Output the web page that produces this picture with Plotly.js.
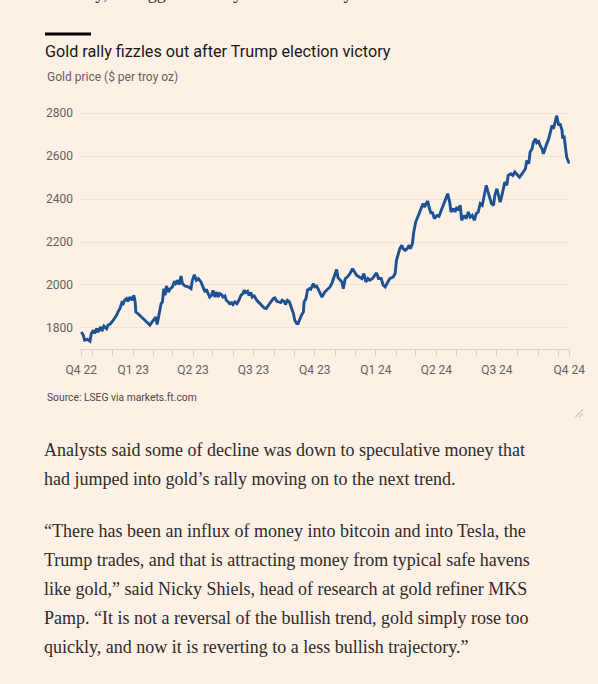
<!DOCTYPE html>
<html>
<head>
<meta charset="utf-8">
<script src="https://cdn.plot.ly/plotly-3.0.1.min.js"></script>
<style>
  html, body { margin:0; padding:0; background:#fdf0e5; width:598px; height:684px; overflow:hidden; }
  #chart { position:absolute; left:0; top:0; width:598px; height:684px; }
  .txt { position:absolute; left:44px; font-family:"Liberation Serif", "DejaVu Serif", serif; font-size:18px; line-height:29px; color:#2e2b29; white-space:nowrap; }
  .resize { position:absolute; left:574px; top:408px; width:9px; height:9px;
            background:linear-gradient(135deg, transparent 55%, #d3cbc4 55%, #d3cbc4 65%, transparent 65%, transparent 75%, #d3cbc4 75%, #d3cbc4 85%, transparent 85%); }
</style>
</head>
<body>
<div id="chart"></div>
<div class="txt" style="top:-21.5px">Tuesday, its biggest weekly fall since early</div>
<div class="txt" style="top:435.5px">Analysts said some of decline was down to speculative money that<br>had jumped into gold’s rally moving on to the next trend.</div>
<div class="txt" style="top:516.5px">“There has been an influx of money into bitcoin and into Tesla, the<br>Trump trades, and that is attracting money from typical safe havens<br>like gold,” said Nicky Shiels, head of research at gold refiner MKS<br>Pamp. “It is not a reversal of the bullish trend, gold simply rose too<br>quickly, and now it is reverting to a less bullish trajectory.”</div>
<div class="resize"></div>
<script>
const chartTitle = "Gold rally fizzles out after Trump election victory";
const subtitle = "Gold price ($ per troy oz)";
const source = "Source: LSEG via markets.ft.com";

const dates = [
'2022-10-15','2022-10-18','2022-10-20','2022-10-24','2022-10-28','2022-10-30',
'2022-11-02','2022-11-04','2022-11-07','2022-11-09','2022-11-13','2022-11-15','2022-11-18','2022-11-22','2022-11-24','2022-11-28',
'2022-12-02','2022-12-04','2022-12-07','2022-12-09','2022-12-12','2022-12-15','2022-12-17','2022-12-19','2022-12-22','2022-12-24','2022-12-27','2022-12-30',
'2023-01-02','2023-01-04','2023-01-05','2023-01-08','2023-01-14','2023-01-19','2023-01-24','2023-01-26','2023-01-30',
'2023-02-02','2023-02-04','2023-02-06','2023-02-09','2023-02-12','2023-02-14','2023-02-16','2023-02-18','2023-02-20','2023-02-23','2023-02-25',
'2023-03-01','2023-03-04','2023-03-06','2023-03-09','2023-03-11','2023-03-14','2023-03-16','2023-03-20','2023-03-25','2023-03-29','2023-03-31',
'2023-04-03','2023-04-06','2023-04-09','2023-04-13','2023-04-16','2023-04-19','2023-04-21','2023-04-24','2023-04-26','2023-04-29',
'2023-05-01','2023-05-04','2023-05-06','2023-05-09','2023-05-11','2023-05-14','2023-05-16','2023-05-19','2023-05-21','2023-05-24','2023-05-26','2023-05-29','2023-05-31',
'2023-06-03','2023-06-06','2023-06-09','2023-06-12','2023-06-15','2023-06-17','2023-06-19','2023-06-22','2023-06-24','2023-06-27','2023-06-29',
'2023-07-02','2023-07-06','2023-07-09','2023-07-13','2023-07-17','2023-07-20','2023-07-23','2023-07-27','2023-07-31',
'2023-08-02','2023-08-05','2023-08-08','2023-08-11','2023-08-13','2023-08-16','2023-08-18','2023-08-21','2023-08-24','2023-08-27','2023-08-30',
'2023-09-01','2023-09-04','2023-09-06','2023-09-09','2023-09-11','2023-09-14','2023-09-15','2023-09-18','2023-09-20','2023-09-23','2023-09-25','2023-09-29',
'2023-10-01','2023-10-04','2023-10-06','2023-10-09','2023-10-12','2023-10-16','2023-10-21','2023-10-24','2023-10-27','2023-10-30',
'2023-11-03','2023-11-05','2023-11-08','2023-11-11','2023-11-13','2023-11-16','2023-11-19','2023-11-23','2023-11-27','2023-11-30',
'2023-12-03','2023-12-07','2023-12-11','2023-12-14','2023-12-17','2023-12-20','2023-12-23','2023-12-27','2023-12-31',
'2024-01-02','2024-01-05','2024-01-09','2024-01-12','2024-01-15','2024-01-19','2024-01-22','2024-01-27','2024-01-30',
'2024-02-01','2024-02-04','2024-02-06','2024-02-09','2024-02-11','2024-02-14','2024-02-17','2024-02-20','2024-02-22','2024-02-25','2024-02-27',
'2024-03-01','2024-03-04','2024-03-06','2024-03-09','2024-03-12','2024-03-14','2024-03-17','2024-03-19','2024-03-21','2024-03-24','2024-03-26','2024-03-29',
'2024-04-02','2024-04-05','2024-04-08','2024-04-11','2024-04-14','2024-04-18','2024-04-21','2024-04-23','2024-04-27','2024-04-29',
'2024-05-02','2024-05-04','2024-05-07','2024-05-09','2024-05-13','2024-05-16','2024-05-19','2024-05-22','2024-05-25','2024-05-28','2024-05-31',
'2024-06-03','2024-06-06','2024-06-09','2024-06-12','2024-06-15','2024-06-17','2024-06-20','2024-06-23','2024-06-26','2024-06-28',
'2024-07-01','2024-07-03','2024-07-06','2024-07-08','2024-07-11','2024-07-13','2024-07-16','2024-07-18','2024-07-22','2024-07-25','2024-07-28',
'2024-08-01','2024-08-04','2024-08-08','2024-08-10','2024-08-13','2024-08-15','2024-08-18','2024-08-20','2024-08-23','2024-08-25','2024-08-28','2024-08-30',
'2024-09-02','2024-09-04','2024-09-07','2024-09-09','2024-09-12','2024-09-14','2024-09-17','2024-09-19','2024-09-22','2024-09-24','2024-09-27','2024-09-29',
'2024-10-02','2024-10-04','2024-10-07','2024-10-08','2024-10-10','2024-10-12','2024-10-14','2024-10-17','2024-10-19'
];

const goldPrice = [
1781,1766,1743,1747,1738,1774,
1789,1774,1797,1781,1805,1785,1809,1797,1813,1820,
1836,1844,1859,1874,1890,1918,1913,1929,1937,1924,1944,1929,
1952,1921,1874,1867,1851,1836,1820,1813,1828,
1844,1851,1816,1874,1913,1921,1983,1952,1995,1967,1980,
1991,2017,2007,2022,2002,2042,2007,1995,1991,1983,2022,
2048,2022,2030,2014,1991,1967,1980,1960,1944,1952,
1975,1944,1967,1944,1960,1955,1944,1949,1929,1921,1913,1918,1909,
1921,1913,1929,1952,1960,1975,1965,1971,1952,1965,1944,
1949,1929,1918,1906,1893,1890,1906,1921,1937,
1940,1924,1921,1918,1929,1924,1909,1929,1921,1898,1867,
1836,1820,1820,1844,1859,1874,1921,1937,1975,1983,1980,2007,
1991,1995,1983,1967,1944,1967,1983,1991,2009,2037,
2072,2034,2022,2014,1983,2030,2037,2053,2076,2060,
2045,2037,2030,2053,2014,2030,2022,2030,2045,
2056,2030,2030,1999,1991,2014,2030,2037,2053,
2115,2153,2169,2185,2169,2161,2169,2185,2169,2193,2247,
2293,2316,2340,2356,2379,2363,2381,2391,2363,2332,2340,2309,
2324,2320,2344,2371,2394,2425,2386,2340,2356,2340,
2363,2347,2371,2301,2324,2309,2340,2316,2324,2301,2332,
2340,2379,2371,2417,2464,2440,2409,2379,2371,2417,
2448,2425,2386,2409,2448,2479,2464,2510,2518,2510,2526,
2510,2502,2518,2526,2541,2580,2565,2619,2634,2665,2681,2662,
2668,2650,2634,2611,2642,2657,2681,2712,2743,2727,2758,2788,
2743,2751,2720,2681,2696,2634,2595,2572,2569
];

const xTickVals = ['2022-10-15','2023-01-01','2023-04-01','2023-07-01','2023-10-01','2024-01-01','2024-04-01','2024-07-01','2024-10-18'];
const xTickText = ['Q4 22','Q1 23','Q2 23','Q3 23','Q4 23','Q1 24','Q2 24','Q3 24','Q4 24'];
const yTickVals = [1800, 2000, 2200, 2400, 2600, 2800];

const W = 598, H = 684;
const L = 80, R = 570, T = 110.5, B = 348.7;
const pw = R - L, ph = B - T;
const px = x => (x - L) / pw;
const py = y => (B - y) / ph;

const trace = {
  x: dates, y: goldPrice, type: 'scatter', mode: 'lines',
  line: { color: '#1d5192', width: 2.9, shape: 'linear' },
  hoverinfo: 'skip'
};

const tickFont = { family: 'Roboto, "Open Sans", sans-serif', size: 12, color: '#66605c' };

const layout = {
  width: W, height: H,
  paper_bgcolor: '#fdf0e5', plot_bgcolor: '#fdf0e5',
  margin: { l: L, r: W - R, t: T, b: H - B, pad: 0 },
  showlegend: false,
  title: {
    text: chartTitle, xref: 'container', yref: 'container',
    x: 45 / W, xanchor: 'left', y: 1 - 51 / H, yanchor: 'middle',
    font: { family: 'Roboto, "Open Sans", sans-serif', size: 16.2, color: '#1a1817' }
  },
  xaxis: {
    type: 'date', range: ['2022-10-13', '2024-10-19'],
    tickmode: 'array', tickvals: xTickVals, ticktext: xTickText,
    ticks: 'outside', ticklen: 6, tickwidth: 1, tickcolor: '#d8cec4',
    showline: true, linecolor: '#ded4ca', linewidth: 1,
    showgrid: false, zeroline: false,
    tickfont: tickFont, ticklabelstandoff: 4,
    minor: { dtick: 'M1', tick0: '2022-11-01', ticks: 'outside', ticklen: 6, tickwidth: 1, tickcolor: '#d8cec4', showgrid: false }
  },
  yaxis: {
    range: [1702, 2810],
    tickmode: 'array', tickvals: yTickVals,
    ticks: '', showline: false, zeroline: false,
    showgrid: true, gridcolor: '#efe3d7', gridwidth: 1,
    tickfont: tickFont, ticklabelstandoff: 6
  },
  shapes: [
    { type: 'rect', xref: 'paper', yref: 'paper', x0: px(45), x1: px(91), y0: py(35), y1: py(32),
      fillcolor: '#000000', line: { width: 0 } }
  ],
  annotations: [
    { text: subtitle, xref: 'paper', yref: 'paper', x: px(45), y: py(76), xanchor: 'left', yanchor: 'middle',
      showarrow: false, font: { family: 'Roboto, "Open Sans", sans-serif', size: 12, color: '#66605c' } },
    { text: source, xref: 'paper', yref: 'paper', x: px(45), y: py(397), xanchor: 'left', yanchor: 'middle',
      showarrow: false, font: { family: 'Roboto, "Open Sans", sans-serif', size: 10.3, color: '#4d4845' } }
  ]
};

Plotly.newPlot('chart', [trace], layout, { staticPlot: true, displayModeBar: false });
</script>
</body>
</html>
